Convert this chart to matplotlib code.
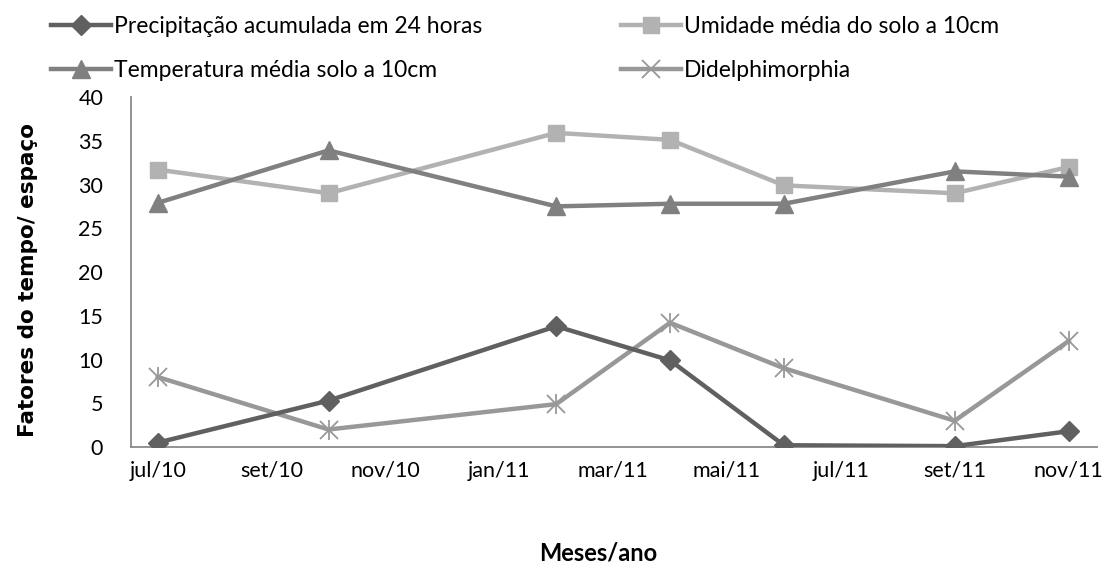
import matplotlib
matplotlib.use("Agg")
import matplotlib.pyplot as plt

# ---- data ----
month_labels = ['jul/10', 'ago/10', 'set/10', 'out/10', 'nov/10', 'dez/10', 'jan/11', 'fev/11',
                'mar/11', 'abr/11', 'mai/11', 'jun/11', 'jul/11', 'ago/11', 'set/11', 'out/11', 'nov/11']
sample_months = ['jul/10', 'out/10', 'fev/11', 'abr/11', 'jun/11', 'set/11', 'nov/11']
precipitacao = [0.5, 5.3, 13.8, 9.9, 0.2, 0.1, 1.8]
umidade = [31.7, 29.0, 35.9, 35.1, 29.9, 29.0, 32.0]
temperatura = [27.9, 33.9, 27.5, 27.8, 27.8, 31.5, 30.9]
didelphimorphia = [8.0, 2.0, 4.9, 14.2, 9.0, 3.0, 12.1]
tick_labels = ['jul/10', 'set/10', 'nov/10', 'jan/11', 'mar/11', 'mai/11', 'jul/11', 'set/11', 'nov/11']

names = ['Precipitação acumulada em 24 horas', 'Umidade média do solo a 10cm',
         'Temperatura média solo a 10cm', 'Didelphimorphia']

font = 'Lato'

x = [month_labels.index(m) for m in sample_months]
ticks = [month_labels.index(t) for t in tick_labels]

fig = plt.figure(figsize=(11.16, 5.84), dpi=100)
ax = fig.add_axes([131/1116, 1-447/584, (1097-131)/1116, (447-97)/584])

lw = 3.2
h1, = ax.plot(x, precipitacao, color='#606060', lw=lw, marker='D', ms=10, mec='#606060', zorder=4)
h2, = ax.plot(x, umidade, color='#b2b2b2', lw=lw, marker='s', ms=12, mec='#b2b2b2', zorder=3)
h3, = ax.plot(x, temperatura, color='#808080', lw=lw, marker='^', ms=13, mec='#808080', zorder=3)
h4, = ax.plot(x, didelphimorphia, color='#989898', lw=lw, marker='x', ms=13, mew=1.3, zorder=3)
ax.plot(x, didelphimorphia, color='#989898', lw=0, marker='|', ms=15, mew=1.3, zorder=3)

ax.set_xlim(-0.47, 16.5)
ax.set_ylim(0, 40)
ax.set_yticks(range(0, 41, 5))
ax.set_xticks(ticks)
ax.set_xticklabels(tick_labels, fontfamily=font, fontsize=15.5)
for lab in ax.get_yticklabels():
    lab.set_fontfamily(font)
    lab.set_fontsize(15.5)
ax.tick_params(axis='x', length=0, pad=10)
ax.tick_params(axis='y', length=0, pad=20)
for s in ['top', 'right']:
    ax.spines[s].set_visible(False)
for s in ['left', 'bottom']:
    ax.spines[s].set_color('#8a8a8a')
    ax.spines[s].set_linewidth(1.3)

fig.text(28/1116, 1-280/584, 'Fatores do tempo/ espaço', rotation=90, ha='center', va='center',
         fontsize=15.5, fontweight='bold', fontfamily='DejaVu Sans')
fig.text(598/1116, 1-553/584, 'Meses/ano', ha='center', va='center',
         fontsize=17, fontweight='bold', fontfamily=font)

# row-wise order for a 2-column legend
leg = fig.legend([h1, h3, h2, h4], [names[0], names[2], names[1], names[3]], ncol=2,
                 loc='upper left', bbox_to_anchor=(35/1116, 1.0), frameon=False,
                 prop={'family': font, 'size': 16.5}, handlelength=2.6,
                 handletextpad=0.15, columnspacing=6.05, labelspacing=1.0, borderaxespad=0.3)

fig.savefig('out.png', dpi=100)
